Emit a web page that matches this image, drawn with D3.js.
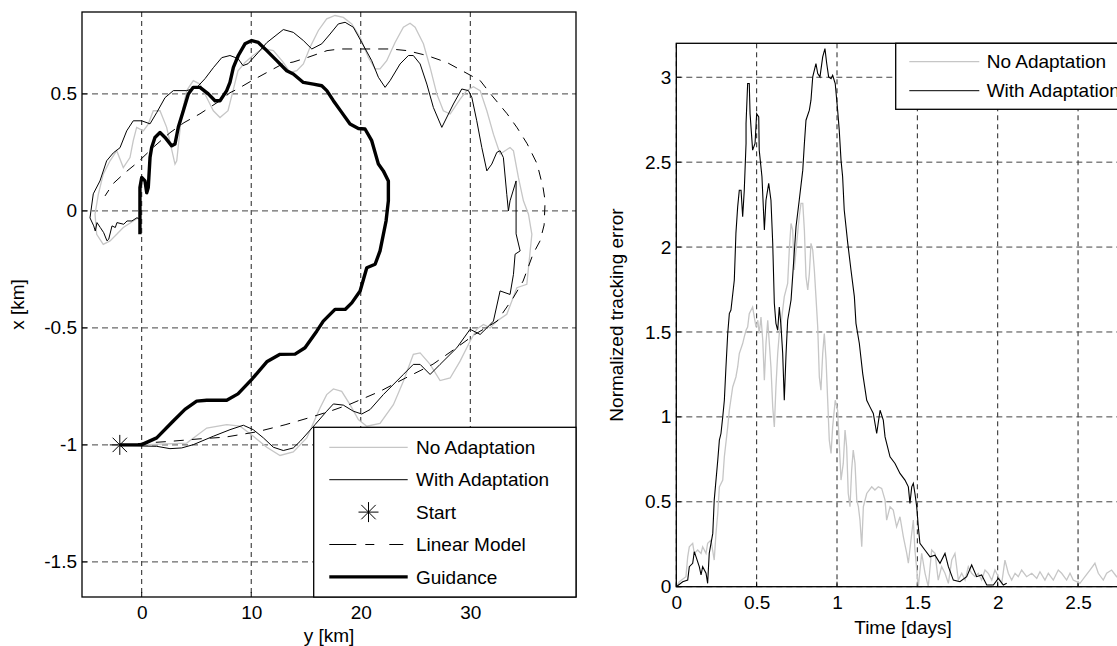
<!DOCTYPE html>
<html>
<head>
<meta charset="utf-8">
<script src="https://cdn.jsdelivr.net/npm/d3@7"></script>
<style>
body { margin: 0; background: #fff; overflow: hidden; }
svg { display: block; font-family: "Liberation Sans", Arial, Helvetica, sans-serif; }
</style>
</head>
<body>
<svg id="chart" width="1117" height="646"></svg>
<script>
// ---- Left panel: trajectories, [y km, x km] pairs ----
const startPoint = [-2, -1];

const guidance = [
  [-2, -1], [0, -0.999], [1.37, -0.97], [2.86, -0.899], [3.95, -0.848], [5.02, -0.813],
  [5.94, -0.809], [7.76, -0.809], [8.79, -0.782], [10.05, -0.72], [11.42, -0.645],
  [12.63, -0.613], [14.0, -0.612], [14.91, -0.585], [15.98, -0.514], [16.58, -0.471],
  [17.65, -0.421], [18.57, -0.421], [19.18, -0.393], [19.94, -0.342], [20.55, -0.243],
  [21.31, -0.228], [21.76, -0.171], [22.31, -0.043], [22.52, 0.043], [22.52, 0.128],
  [22.06, 0.171], [21.61, 0.2], [21.0, 0.3], [20.39, 0.35], [19.78, 0.352], [19.02, 0.371],
  [18.26, 0.421], [17.5, 0.471], [16.9, 0.514], [16.44, 0.535], [15.67, 0.542],
  [14.76, 0.549], [13.84, 0.585], [13.24, 0.599], [12.33, 0.642], [11.42, 0.685],
  [10.65, 0.72], [10.05, 0.728], [9.43, 0.714], [8.82, 0.664], [8.37, 0.613], [8.06, 0.549],
  [7.76, 0.514], [7.15, 0.471], [6.69, 0.471], [6.08, 0.5], [5.32, 0.528], [4.71, 0.528],
  [4.26, 0.5], [3.8, 0.428], [3.34, 0.357], [3.04, 0.286], [2.74, 0.278], [2.13, 0.314],
  [1.67, 0.335], [1.21, 0.314], [0.91, 0.271], [0.76, 0.228], [0.6, 0.1], [0.46, 0.078],
  [0.3, 0.128], [0.0, 0.143], [-0.16, 0.1], [-0.16, -0.1]
];

const withAdapt = [
  [-1.98, -1.003], [1.37, -1.006], [2.58, -1.016], [3.65, -1.013], [4.71, -0.999],
  [6.54, -0.963], [8.06, -0.935], [9.28, -0.916], [10.19, -0.935], [11.11, -0.97],
  [12.02, -1.01], [12.93, -1.024], [13.84, -1.013], [14.46, -0.985], [15.83, -0.913],
  [16.89, -0.856], [17.5, -0.825], [18.41, -0.83], [19.32, -0.856], [20.09, -0.868],
  [20.85, -0.849], [22.06, -0.785], [23.89, -0.699], [24.8, -0.656], [25.42, -0.656],
  [26.33, -0.699], [27.24, -0.656], [28.77, -0.585], [29.98, -0.506], [30.9, -0.528],
  [31.51, -0.5], [32.11, -0.471], [32.72, -0.342], [33.63, -0.357], [33.94, -0.271],
  [34.09, -0.185], [34.55, -0.171], [34.18, -0.098], [34.18, 0.128], [33.63, 0.043],
  [33.48, 0.0], [33.33, 0.071], [33.02, 0.228], [32.72, 0.257], [32.42, 0.25],
  [31.96, 0.2], [31.51, 0.171], [31.05, 0.271], [30.59, 0.385], [30.14, 0.485],
  [29.83, 0.514], [29.22, 0.521], [28.46, 0.457], [27.4, 0.357], [26.63, 0.442],
  [26.03, 0.542], [25.42, 0.628], [24.8, 0.664], [24.35, 0.664], [23.59, 0.628],
  [22.68, 0.557], [22.22, 0.528], [21.61, 0.571], [21.0, 0.642], [20.09, 0.72],
  [19.32, 0.785], [18.57, 0.806], [17.95, 0.799], [17.2, 0.756], [16.44, 0.714],
  [15.53, 0.692], [14.76, 0.728], [13.84, 0.763], [12.93, 0.775], [11.42, 0.719],
  [10.62, 0.676], [9.71, 0.629], [9.25, 0.621], [8.79, 0.651], [8.06, 0.664],
  [7.31, 0.655], [6.54, 0.612], [5.78, 0.565], [5.02, 0.527], [4.11, 0.514],
  [2.89, 0.514], [2.13, 0.484], [1.37, 0.42], [0.76, 0.372], [0.0, 0.385], [-0.77, 0.385],
  [-1.37, 0.342], [-1.98, 0.27], [-2.59, 0.248], [-3.2, 0.214], [-3.81, 0.128],
  [-4.42, 0.073], [-4.72, -0.03], [-4.38, -0.064], [-4.24, -0.086], [-4.08, -0.05],
  [-3.78, -0.071], [-3.47, -0.093], [-3.17, -0.128], [-3.01, -0.121], [-2.71, -0.064],
  [-2.41, -0.071], [-2.26, -0.05], [-1.64, -0.057], [-1.34, -0.043], [-0.89, -0.043],
  [-0.43, -0.029], [-0.22, -0.036]
];

const noAdapt = [
  [-1.98, -1.003], [4.11, -0.992], [5.94, -0.928], [7.76, -0.913], [8.98, -0.92],
  [10.19, -0.963], [11.42, -1.01], [12.63, -1.045], [13.84, -1.03], [15.07, -0.97],
  [16.28, -0.842], [16.89, -0.785], [17.5, -0.761], [18.26, -0.771], [19.02, -0.828],
  [19.78, -0.892], [20.55, -0.92], [21.76, -0.908], [22.98, -0.828], [23.89, -0.728],
  [24.8, -0.613], [25.42, -0.607], [26.33, -0.656], [27.24, -0.725], [28.16, -0.714],
  [29.07, -0.642], [29.98, -0.557], [30.59, -0.506], [31.2, -0.485], [31.81, -0.5],
  [32.42, -0.471], [33.33, -0.442], [34.25, -0.328], [35.16, -0.314], [35.62, -0.1],
  [35.31, -0.014], [34.85, 0.043], [34.39, 0.143], [33.94, 0.257], [33.63, 0.271],
  [33.18, 0.257], [32.72, 0.243], [32.11, 0.328], [31.51, 0.428], [30.9, 0.514],
  [30.28, 0.531], [29.68, 0.514], [29.07, 0.478], [28.16, 0.414], [27.54, 0.428],
  [26.94, 0.5], [26.33, 0.613], [25.72, 0.714], [24.96, 0.785], [24.5, 0.802],
  [23.89, 0.785], [23.13, 0.72], [22.37, 0.642], [21.76, 0.607], [21.31, 0.607],
  [20.69, 0.656], [19.94, 0.742], [19.18, 0.799], [18.41, 0.827], [17.65, 0.835],
  [16.89, 0.821], [16.13, 0.771], [15.37, 0.699], [14.76, 0.628], [14.16, 0.599],
  [13.54, 0.592], [12.93, 0.635], [12.02, 0.685], [11.08, 0.694], [10.16, 0.664],
  [9.43, 0.634], [8.79, 0.599], [8.34, 0.514], [7.88, 0.428], [7.15, 0.399],
  [6.54, 0.428], [6.08, 0.471], [5.32, 0.542], [4.71, 0.557], [4.11, 0.514],
  [3.65, 0.414], [3.2, 0.214], [3.04, 0.2], [2.28, 0.357], [1.67, 0.428], [1.06, 0.428],
  [0.6, 0.371], [0.15, 0.342], [-0.46, 0.357], [-0.77, 0.3], [-1.07, 0.228],
  [-1.68, 0.185], [-2.28, 0.257], [-2.89, 0.214], [-3.51, 0.157], [-3.96, 0.071],
  [-4.26, -0.014], [-4.11, -0.1], [-3.51, -0.143], [-2.89, -0.128], [-2.28, -0.1],
  [-1.68, -0.071], [-0.77, -0.043], [-0.31, -0.029]
];

const linearModel = [
  [-1.98, -1.003], [0, -0.993], [2.58, -0.985], [5.32, -0.974], [7.61, -0.967],
  [10.53, -0.944], [13.09, -0.914], [15.28, -0.884], [17.2, -0.856], [19.02, -0.826],
  [21.76, -0.771], [24.05, -0.715], [26.6, -0.655], [28.7, -0.586], [30.44, -0.527],
  [32.45, -0.471], [33.91, -0.372], [34.82, -0.3], [35.73, -0.184], [36.37, -0.128],
  [36.74, -0.06], [36.83, 0.043], [36.65, 0.098], [36.1, 0.201], [35.19, 0.287],
  [34.28, 0.355], [33.36, 0.415], [31.99, 0.492], [30.9, 0.557], [29.25, 0.599],
  [27.88, 0.634], [26.05, 0.664], [24.23, 0.685], [22.68, 0.692], [20.39, 0.692],
  [18.11, 0.692], [16.92, 0.685], [15.1, 0.655], [13.82, 0.636], [12.9, 0.629],
  [11.72, 0.599], [10.07, 0.557], [8.79, 0.522], [8.06, 0.505], [7.15, 0.471],
  [5.32, 0.415], [3.86, 0.377], [2.58, 0.334], [1.21, 0.278], [-0.43, 0.205],
  [-1.53, 0.163], [-2.62, 0.116], [-3.35, 0.064]
];

const leftXTicks = [0, 10, 20, 30];
const leftYTicks = [-1.5, -1, -0.5, 0, 0.5];
const leftLegend = ["No Adaptation", "With Adaptation", "Start", "Linear Model", "Guidance"];

// ---- Right panel: normalized tracking error, [time days, error] pairs ----
const errWithAdapt = [
  [0, 0], [0.04, 0.029], [0.071, 0.039], [0.081, 0.118], [0.102, 0.138], [0.112, 0.206],
  [0.123, 0.176], [0.143, 0.118], [0.154, 0.069], [0.164, 0.118], [0.185, 0.079],
  [0.195, 0.02], [0.205, 0.196], [0.227, 0.314], [0.236, 0.51], [0.258, 0.745],
  [0.268, 0.863], [0.278, 0.902], [0.289, 1.0], [0.299, 1.098], [0.309, 1.294],
  [0.32, 1.491], [0.33, 1.608], [0.34, 1.629], [0.361, 1.806], [0.371, 2.081],
  [0.382, 2.238], [0.392, 2.335], [0.403, 2.335], [0.413, 2.179], [0.423, 2.335],
  [0.434, 2.61], [0.434, 2.728], [0.444, 2.963], [0.454, 2.963], [0.459, 2.786],
  [0.475, 2.571], [0.49, 2.61], [0.5, 2.786], [0.513, 2.767], [0.516, 2.571],
  [0.533, 2.414], [0.548, 2.1], [0.558, 2.276], [0.575, 2.375], [0.589, 2.276],
  [0.6, 2.022], [0.61, 1.669], [0.62, 1.551], [0.631, 1.51], [0.641, 1.647],
  [0.652, 1.529], [0.662, 1.373], [0.672, 1.098], [0.683, 1.373], [0.693, 1.569],
  [0.714, 1.688], [0.724, 1.826], [0.745, 2.12], [0.765, 2.276], [0.787, 2.453],
  [0.797, 2.61], [0.807, 2.747], [0.828, 2.806], [0.838, 2.865], [0.849, 3.002],
  [0.869, 3.081], [0.88, 3.022], [0.894, 3.002], [0.911, 3.12], [0.925, 3.169],
  [0.936, 3.081], [0.948, 3.002], [0.963, 2.992], [0.973, 3.012], [0.989, 2.963],
  [1.004, 2.806], [1.014, 2.688], [1.025, 2.512], [1.035, 2.414], [1.045, 2.218],
  [1.067, 2.022], [1.087, 1.865], [1.108, 1.708], [1.118, 1.551], [1.139, 1.432],
  [1.16, 1.255], [1.185, 1.098], [1.205, 1.059], [1.226, 1.02], [1.247, 0.902],
  [1.268, 1.039], [1.288, 0.981], [1.299, 0.882], [1.33, 0.765], [1.361, 0.726],
  [1.392, 0.667], [1.423, 0.628], [1.444, 0.588], [1.454, 0.491], [1.465, 0.588],
  [1.475, 0.608], [1.485, 0.549], [1.496, 0.471], [1.506, 0.353], [1.516, 0.255],
  [1.547, 0.216], [1.579, 0.176], [1.61, 0.186], [1.641, 0.138], [1.672, 0.196],
  [1.693, 0.118], [1.724, 0.039], [1.765, 0.029], [1.807, 0.059], [1.838, 0.128],
  [1.869, 0.059], [1.9, 0.069], [1.932, 0.01], [1.973, 0.01], [2.004, 0.049],
  [2.035, 0.01], [2.056, 0.02]
];

const errNoAdapt = [
  [0, 0], [0.019, 0.029], [0.06, 0.059], [0.071, 0.176], [0.081, 0.235], [0.102, 0.255],
  [0.112, 0.196], [0.133, 0.216], [0.154, 0.196], [0.164, 0.235], [0.185, 0.196],
  [0.195, 0.255], [0.216, 0.275], [0.236, 0.157], [0.247, 0.314], [0.258, 0.432],
  [0.268, 0.588], [0.289, 0.628], [0.299, 0.765], [0.32, 0.941], [0.33, 1.039],
  [0.351, 1.176], [0.371, 1.235], [0.382, 1.294], [0.392, 1.373], [0.413, 1.432],
  [0.423, 1.471], [0.434, 1.51], [0.444, 1.529], [0.454, 1.608], [0.475, 1.647],
  [0.496, 1.529], [0.507, 1.569], [0.516, 1.491], [0.527, 1.588], [0.538, 1.451],
  [0.548, 1.216], [0.558, 1.432], [0.569, 1.569], [0.579, 1.432], [0.589, 1.294],
  [0.6, 1.059], [0.61, 0.941], [0.62, 1.176], [0.631, 1.373], [0.641, 1.491],
  [0.652, 1.551], [0.672, 1.708], [0.693, 1.786], [0.703, 1.982], [0.714, 2.139],
  [0.724, 2.1], [0.734, 1.865], [0.749, 2.022], [0.765, 2.179], [0.776, 2.257],
  [0.787, 2.257], [0.797, 2.1], [0.807, 1.826], [0.818, 1.747], [0.828, 1.845],
  [0.838, 2.022], [0.849, 1.982], [0.859, 1.865], [0.869, 1.708], [0.88, 1.529],
  [0.89, 1.235], [0.9, 1.157], [0.911, 1.373], [0.921, 1.491], [0.932, 1.334],
  [0.942, 1.098], [0.952, 0.863], [0.963, 0.785], [0.973, 0.941], [0.989, 1.098],
  [1.004, 1.039], [1.014, 0.844], [1.025, 0.628], [1.039, 0.726], [1.05, 0.922],
  [1.06, 0.824], [1.07, 0.549], [1.081, 0.471], [1.091, 0.686], [1.101, 0.804],
  [1.112, 0.726], [1.123, 0.51], [1.133, 0.471], [1.143, 0.392], [1.154, 0.235],
  [1.164, 0.471], [1.185, 0.549], [1.216, 0.588], [1.236, 0.569], [1.257, 0.588],
  [1.278, 0.579], [1.299, 0.51], [1.309, 0.392], [1.33, 0.471], [1.35, 0.451],
  [1.371, 0.353], [1.392, 0.412], [1.413, 0.294], [1.434, 0.196], [1.444, 0.138],
  [1.465, 0.314], [1.475, 0.392], [1.485, 0.216], [1.506, 0.0], [1.527, 0.196],
  [1.548, 0.079], [1.568, 0.0], [1.589, 0.216], [1.61, 0.196], [1.63, 0.039],
  [1.651, 0.118], [1.672, 0.079], [1.693, 0.02], [1.714, 0.157], [1.734, 0.196],
  [1.755, 0.039], [1.776, 0.079], [1.797, 0.039], [1.817, 0.118], [1.838, 0.079],
  [1.859, 0.059], [1.879, 0.079], [1.9, 0.039], [1.921, 0.098], [1.941, 0.079],
  [1.963, 0.039], [1.983, 0.098], [2.004, 0.059], [2.025, 0.02], [2.045, 0.157],
  [2.066, 0.079], [2.087, 0.039], [2.108, 0.079], [2.128, 0.059], [2.149, 0.098],
  [2.18, 0.059], [2.212, 0.079], [2.243, 0.049], [2.263, 0.088], [2.294, 0.039],
  [2.315, 0.079], [2.346, 0.039], [2.377, 0.098], [2.398, 0.079], [2.429, 0.039],
  [2.45, 0.079], [2.47, 0.039], [2.512, 0.02], [2.543, 0.059], [2.574, 0.098],
  [2.605, 0.138], [2.626, 0.079], [2.657, 0.039], [2.678, 0.079], [2.709, 0.098],
  [2.74, 0.059], [2.773, 0.086], [2.81, 0.05]
];

const rightXTicks = [0, 0.5, 1, 1.5, 2, 2.5];
const rightYTicks = [0, 0.5, 1, 1.5, 2, 2.5, 3];
const rightLegend = ["No Adaptation", "With Adaptation"];

const GRAY = "#c6c6c6";
const FONT = 19;

// plain hyphen minus, like the original figure
let plain = d => String(d);

let svg = d3.select("#chart");

// Draws one set of axes with a dashed grid and a frame, returns the plot group
function makeAxes(xs, ys, xTicks, yTicks, id) {
    let [x0, x1] = xs.range(), [y1, y0] = ys.range();
    let g = svg.append("g");

    g.append("clipPath").attr("id", id)
        .append("rect").attr("x", x0).attr("y", y0)
        .attr("width", x1 - x0).attr("height", y1 - y0);

    // grid
    g.append("g").selectAll("line").data(xTicks).join("line")
        .attr("x1", d => xs(d)).attr("x2", d => xs(d))
        .attr("y1", y0).attr("y2", y1)
        .attr("stroke", "#222").attr("stroke-width", 1).attr("stroke-dasharray", "5,4");
    g.append("g").selectAll("line").data(yTicks).join("line")
        .attr("x1", x0).attr("x2", x1)
        .attr("y1", d => ys(d)).attr("y2", d => ys(d))
        .attr("stroke", "#444").attr("stroke-width", 1).attr("stroke-dasharray", "6,4");

    // tick labels through d3 axes
    let xAxis = g.append("g").attr("transform", `translate(0,${y1})`)
        .call(d3.axisBottom(xs).tickValues(xTicks).tickFormat(plain).tickSize(0).tickPadding(9));
    let yAxis = g.append("g").attr("transform", `translate(${x0},0)`)
        .call(d3.axisLeft(ys).tickValues(yTicks).tickFormat(plain).tickSize(0).tickPadding(5));
    [xAxis, yAxis].forEach(a => {
        a.select(".domain").remove();
        a.selectAll("text").attr("font-size", FONT).attr("font-family", null).attr("fill", "#000");
    });

    // small inward ticks
    g.append("g").selectAll("line").data(xTicks).join("line")
        .attr("x1", d => xs(d)).attr("x2", d => xs(d))
        .attr("y1", y1).attr("y2", y1 - 5).attr("stroke", "#000");
    g.append("g").selectAll("line").data(yTicks).join("line")
        .attr("x1", x0).attr("x2", x0 + 5)
        .attr("y1", d => ys(d)).attr("y2", d => ys(d)).attr("stroke", "#000");

    let plot = svg.append("g").attr("clip-path", `url(#${id})`);

    // frame on top
    svg.append("rect").attr("x", x0).attr("y", y0)
        .attr("width", x1 - x0).attr("height", y1 - y0)
        .attr("fill", "none").attr("stroke", "#000").attr("stroke-width", 1.3);
    return plot;
}

function asterisk(sel, cx, cy, r) {
    let d = r * 0.72;
    let p = `M${cx - r},${cy}H${cx + r}M${cx},${cy - r}V${cy + r}` +
        `M${cx - d},${cy - d}L${cx + d},${cy + d}M${cx - d},${cy + d}L${cx + d},${cy - d}`;
    sel.append("path").attr("d", p).attr("stroke", "#000").attr("stroke-width", 1).attr("fill", "none");
}

// ---------------- Left panel ----------------
let ly = d3.scaleLinear().domain([-5.45, 39.65]).range([82, 576]);
let lx = d3.scaleLinear().domain([-1.65, 0.85]).range([597, 12]);

let leftPlot = makeAxes(ly, lx, leftXTicks, leftYTicks, "clipL");
let lline = d3.line().x(d => ly(d[0])).y(d => lx(d[1]));

leftPlot.append("path").datum(noAdapt).attr("d", lline)
    .attr("fill", "none").attr("stroke", GRAY).attr("stroke-width", 1.3);
leftPlot.append("path").datum(linearModel).attr("d", lline)
    .attr("fill", "none").attr("stroke", "#000").attr("stroke-width", 1)
    .attr("stroke-dasharray", "10,8");
leftPlot.append("path").datum(withAdapt).attr("d", lline)
    .attr("fill", "none").attr("stroke", "#000").attr("stroke-width", 1);
leftPlot.append("path").datum(guidance).attr("d", lline)
    .attr("fill", "none").attr("stroke", "#000").attr("stroke-width", 3.4)
    .attr("stroke-linejoin", "round");
asterisk(leftPlot, ly(startPoint[0]), lx(startPoint[1]), 10);

svg.append("text").attr("transform", `translate(24,${(12 + 597) / 2}) rotate(-90)`)
    .attr("text-anchor", "middle").attr("font-size", FONT).text("x [km]");
svg.append("text").attr("x", (82 + 576) / 2).attr("y", 642)
    .attr("text-anchor", "middle").attr("font-size", FONT).text("y [km]");

// left legend
let legL = svg.append("g");
let lgX0 = 313.7, lgY0 = 427.3, lgX1 = 576, lgY1 = 597, lgRow = 32.4;
legL.append("rect").attr("x", lgX0).attr("y", lgY0)
    .attr("width", lgX1 - lgX0).attr("height", lgY1 - lgY0)
    .attr("fill", "#fff").attr("stroke", "#000").attr("stroke-width", 1.3);
let legStyles = [
    {stroke: GRAY, w: 1.3, dash: null},
    {stroke: "#000", w: 1, dash: null},
    null,
    {stroke: "#000", w: 1, dash: "27,9,9,15,14"},
    {stroke: "#000", w: 3.4, dash: null}
];
leftLegend.forEach((name, i) => {
    let cy = lgY0 + 20 + i * lgRow;
    if (legStyles[i]) {
        legL.append("line").attr("x1", 329.3).attr("x2", 407.7).attr("y1", cy).attr("y2", cy)
            .attr("stroke", legStyles[i].stroke).attr("stroke-width", legStyles[i].w)
            .attr("stroke-dasharray", legStyles[i].dash);
    } else {
        asterisk(legL, 368.5, cy, 10);
    }
    legL.append("text").attr("x", 416).attr("y", cy).attr("dy", "0.35em")
        .attr("font-size", FONT).text(name);
});

// ---------------- Right panel ----------------
let rt = d3.scaleLinear().domain([0, 2.83]).range([676.3, 676.3 + 2.83 * 160.7]);
let rv = d3.scaleLinear().domain([0, 3.2]).range([586.7, 43.3]);

let rightPlot = makeAxes(rt, rv, rightXTicks, rightYTicks, "clipR");
let rline = d3.line().x(d => rt(d[0])).y(d => rv(d[1]));

rightPlot.append("path").datum(errNoAdapt).attr("d", rline)
    .attr("fill", "none").attr("stroke", GRAY).attr("stroke-width", 1.3);
rightPlot.append("path").datum(errWithAdapt).attr("d", rline)
    .attr("fill", "none").attr("stroke", "#000").attr("stroke-width", 1.1);

svg.append("text").attr("transform", `translate(623,${(43.3 + 586.7) / 2}) rotate(-90)`)
    .attr("text-anchor", "middle").attr("font-size", FONT).text("Normalized tracking error");
svg.append("text").attr("x", 903).attr("y", 634)
    .attr("text-anchor", "middle").attr("font-size", FONT).text("Time [days]");

// right legend
let legR = svg.append("g");
let rgX0 = 895.7, rgY0 = 43.3, rgX1 = 1127, rgY1 = 109.3;
legR.append("rect").attr("x", rgX0).attr("y", rgY0)
    .attr("width", rgX1 - rgX0).attr("height", rgY1 - rgY0)
    .attr("fill", "#fff").attr("stroke", "#000").attr("stroke-width", 1.3);
rightLegend.forEach((name, i) => {
    let cy = rgY0 + 18.4 + i * 29;
    legR.append("line").attr("x1", 909.3).attr("x2", 979.3).attr("y1", cy).attr("y2", cy)
        .attr("stroke", i === 0 ? GRAY : "#000").attr("stroke-width", i === 0 ? 1.3 : 1);
    legR.append("text").attr("x", 986.7).attr("y", cy).attr("dy", "0.35em")
        .attr("font-size", FONT).text(name);
});
</script>
</body>
</html>
